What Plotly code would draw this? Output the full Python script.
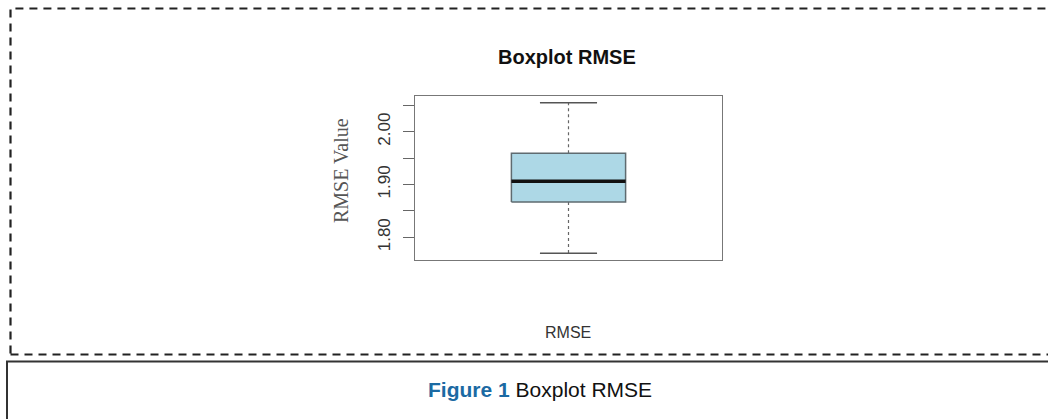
import plotly.graph_objects as go

# Summary statistics of the RMSE sample (one group)
groups = ["RMSE"]
lower_whisker = [1.770]
q1 = [1.867]
median = [1.906]
q3 = [1.959]
upper_whisker = [2.055]

# y-axis ticks: every 0.05, labels on every other tick
tick_values = [1.80, 1.85, 1.90, 1.95, 2.00, 2.05]
tick_labels = ["1.80", "", "1.90", "", "2.00", ""]

W, H = 1048, 419
BOX_HALF = 0.186
CAP_HALF = BOX_HALF / 2

fig = go.Figure()

for i, name in enumerate(groups):
    xc = i + 1
    # dashed whiskers
    fig.add_trace(go.Scatter(
        x=[xc, xc, None, xc, xc],
        y=[q3[i], upper_whisker[i], None, q1[i], lower_whisker[i]],
        mode="lines", line=dict(color="#666666", width=1.2, dash="3px,3px"),
        hoverinfo="skip", showlegend=False))
    # whisker caps
    fig.add_trace(go.Scatter(
        x=[xc - CAP_HALF, xc + CAP_HALF, None, xc - CAP_HALF, xc + CAP_HALF],
        y=[upper_whisker[i], upper_whisker[i], None, lower_whisker[i], lower_whisker[i]],
        mode="lines", line=dict(color="#555555", width=1.5),
        hoverinfo="skip", showlegend=False))
    # box (q1..q3)
    fig.add_trace(go.Scatter(
        x=[xc - BOX_HALF, xc + BOX_HALF, xc + BOX_HALF, xc - BOX_HALF, xc - BOX_HALF],
        y=[q1[i], q1[i], q3[i], q3[i], q1[i]],
        mode="lines", fill="toself", fillcolor="#ADD8E6",
        line=dict(color="#5f6b70", width=1.5),
        hoverinfo="skip", showlegend=False))
    # median
    fig.add_trace(go.Scatter(
        x=[xc - BOX_HALF, xc + BOX_HALF], y=[median[i], median[i]],
        mode="lines", line=dict(color="#111111", width=3.5),
        hoverinfo="skip", showlegend=False))

x0p, x1p = 415 / W, 722 / W
y1p, y0p = 1 - 96 / H, 1 - 260 / H

fig.update_xaxes(
    domain=[x0p, x1p], range=[0.5, 1.5],
    showgrid=False, zeroline=False, showticklabels=False, ticks="",
    showline=True, mirror=True, linecolor="#777777", linewidth=1.3)
fig.update_yaxes(
    domain=[y0p, y1p], range=[1.757, 2.0676],
    tickvals=tick_values, ticktext=tick_labels, tickangle=-90,
    ticks="outside", ticklen=11, tickcolor="#666666", tickwidth=1.2,
    ticklabelstandoff=6,
    tickfont=dict(family="Liberation Sans, Arial, sans-serif", size=17, color="#333333"),
    showgrid=False, zeroline=False,
    showline=True, mirror=True, linecolor="#777777", linewidth=1.3)

shapes = [
    # dashed outer frame (right edge runs past the page)
    dict(type="rect", xref="paper", yref="paper",
         x0=10.5 / W, x1=1.02, y0=1 - 354.5 / H, y1=1 - 8.5 / H,
         line=dict(color="#222222", width=2.2, dash="8px,6px"), layer="below"),
    # caption box
    dict(type="rect", xref="paper", yref="paper",
         x0=7 / W, x1=1.02, y0=-0.05, y1=1 - 361.5 / H,
         line=dict(color="#333333", width=2), layer="below"),
]

annotations = [
    dict(text="<b>Boxplot RMSE</b>", x=567 / W, y=1 - 57 / H, xref="paper", yref="paper",
         showarrow=False, xanchor="center", yanchor="middle",
         font=dict(family="Liberation Sans, Arial, sans-serif", size=20, color="#111111")),
    dict(text="RMSE", x=568 / W, y=1 - 332 / H, xref="paper", yref="paper",
         showarrow=False, xanchor="center", yanchor="middle",
         font=dict(family="Liberation Sans, Arial, sans-serif", size=16, color="#333333")),
    dict(text="RMSE Value", x=341 / W, y=1 - 171 / H, xref="paper", yref="paper",
         showarrow=False, xanchor="center", yanchor="middle", textangle=-90,
         font=dict(family="Liberation Serif, Times New Roman, serif", size=20, color="#555555")),
    dict(text="<b><span style='color:#1b6aa3'>Figure 1</span></b> Boxplot RMSE",
         x=540 / W, y=1 - 389 / H, xref="paper", yref="paper",
         showarrow=False, xanchor="center", yanchor="middle",
         font=dict(family="Liberation Sans, Arial, sans-serif", size=21, color="#111111")),
]

fig.update_layout(
    width=W, height=H, margin=dict(l=0, r=0, t=0, b=0),
    paper_bgcolor="white", plot_bgcolor="white",
    shapes=shapes, annotations=annotations, showlegend=False)

fig.write_html("out.html", config={"displayModeBar": False})
